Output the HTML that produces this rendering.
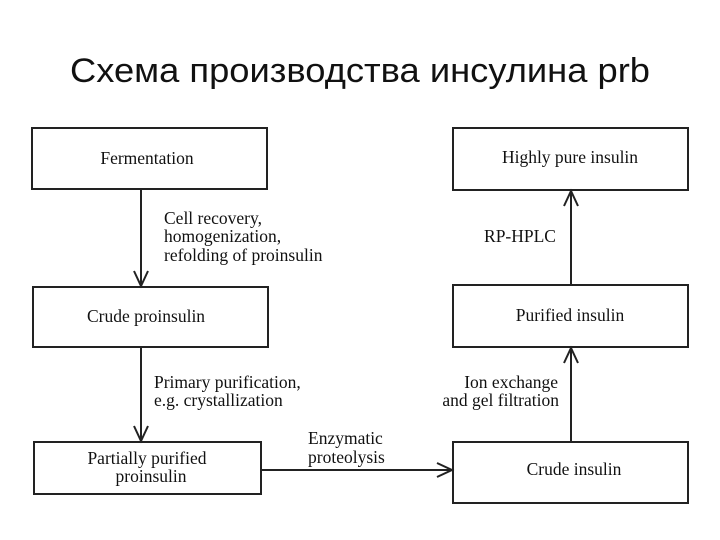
<!DOCTYPE html>
<html><head><meta charset="utf-8"><style>
html,body{margin:0;padding:0;background:#fff;}
svg{display:block;}
.t{font-family:"Liberation Serif",serif;font-size:17.5px;fill:#111;}
</style></head><body>
<svg width="720" height="540" viewBox="0 0 720 540" xmlns="http://www.w3.org/2000/svg">
<text x="360" y="82" text-anchor="middle" font-family="Liberation Sans, DejaVu Sans, sans-serif" font-size="34" fill="#111" textLength="580" lengthAdjust="spacingAndGlyphs">Схема производства инсулина prb</text>
<g fill="none" stroke="#222" stroke-width="2">
<rect x="32" y="128" width="235" height="61"/>
<rect x="33" y="287" width="235" height="60"/>
<rect x="34" y="442" width="227" height="52"/>
<rect x="453" y="128" width="235" height="62"/>
<rect x="453" y="285" width="235" height="62"/>
<rect x="453" y="442" width="235" height="61"/>
<line x1="141" y1="189" x2="141" y2="286"/>
<polyline points="134,271 141,286 148,271"/>
<line x1="141" y1="347" x2="141" y2="441"/>
<polyline points="134,426 141,441 148,426"/>
<line x1="571" y1="442" x2="571" y2="348"/>
<polyline points="564,363 571,348 578,363"/>
<line x1="571" y1="285" x2="571" y2="191"/>
<polyline points="564,206 571,191 578,206"/>
<line x1="261" y1="470" x2="452" y2="470"/>
<polyline points="437,463 452,470 437,477"/>
</g>
<g class="t">
<text x="147" y="164" text-anchor="middle">Fermentation</text>
<text x="164" y="224">Cell recovery,</text>
<text x="164" y="242">homogenization,</text>
<text x="164" y="261">refolding of proinsulin</text>
<text x="146" y="322" text-anchor="middle">Crude proinsulin</text>
<text x="154" y="388">Primary purification,</text>
<text x="154" y="406">e.g. crystallization</text>
<text x="147" y="464" text-anchor="middle">Partially purified</text>
<text x="151" y="482" text-anchor="middle">proinsulin</text>
<text x="308" y="444">Enzymatic</text>
<text x="308" y="463">proteolysis</text>
<text x="570" y="163" text-anchor="middle">Highly pure insulin</text>
<text x="520" y="242" text-anchor="middle">RP-HPLC</text>
<text x="570" y="321" text-anchor="middle">Purified insulin</text>
<text x="558" y="388" text-anchor="end">Ion exchange</text>
<text x="559" y="406" text-anchor="end">and gel filtration</text>
<text x="574" y="475" text-anchor="middle">Crude insulin</text>
</g>
</svg>
</body></html>
